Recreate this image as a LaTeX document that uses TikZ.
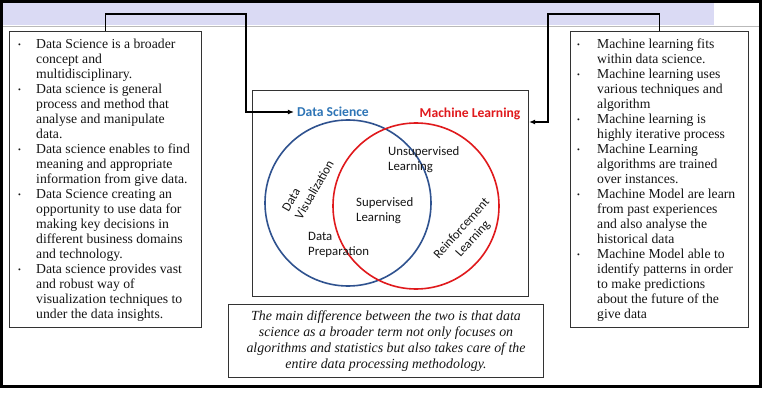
\documentclass[tikz,border=0pt]{standalone}
\usepackage{fontspec}
\setmainfont{Liberation Serif}
\newfontfamily\calfont{Carlito}
\usetikzlibrary{arrows.meta,calc}
\definecolor{band}{HTML}{DADAF4}
\definecolor{dsblue}{HTML}{2E75B6}
\definecolor{dsring}{HTML}{2F528F}
\definecolor{mlred}{HTML}{E0191C}
\definecolor{txt}{HTML}{151515}
\definecolor{boxline}{HTML}{333333}
\newcommand{\bul}[1]{\makebox[#1][l]{\raisebox{0.1ex}{\fontsize{8}{8}\selectfont •}}}
\begin{document}
\begin{tikzpicture}[x=1pt,y=-1pt,
  textbox/.style={draw=boxline,line width=1.1pt,fill=white,inner sep=0pt},
  listtext/.style={inner sep=0pt,align=left,text=txt,font=\fontsize{13.7}{15}\selectfont},
  conn/.style={line width=1.6pt,black},
  tip/.style={-{Latex[length=6pt,width=5pt]}},
  ring/.style={circle,line width=1.6pt,minimum size=166pt,inner sep=0pt},
  venn/.style={inner sep=0pt,text=txt,font=\calfont\fontsize{12.8}{15}\selectfont},
  title/.style={inner sep=0pt,font=\calfont\bfseries\fontsize{13.6}{15}\selectfont}]
\useasboundingbox (0,0) rectangle (763,401);
\fill[white] (0,0) rectangle (763,401);
\fill[band] (2,2) rectangle (714,25);
\draw[gray!55,line width=0.6pt] (2,26) -- (760,26);
\draw[black,line width=3pt] (1.5,1.5) rectangle (760,386);

% left box
\node[textbox,anchor=north west,minimum width=192pt,minimum height=296pt] (lbox) at (9,31) {};
\node[listtext,anchor=base west] (ltext) at (18,318) {%
\bul{18pt}Data Science is a broader\\
\hspace*{18pt}concept and\\
\hspace*{18pt}multidisciplinary.\\
\bul{18pt}Data science is general\\
\hspace*{18pt}process and method that\\
\hspace*{18pt}analyse and manipulate\\
\hspace*{18pt}data.\\
\bul{18pt}Data science enables to find\\
\hspace*{18pt}meaning and appropriate\\
\hspace*{18pt}information from give data.\\
\bul{18pt}Data Science creating an\\
\hspace*{18pt}opportunity to use data for\\
\hspace*{18pt}making key decisions in\\
\hspace*{18pt}different business domains\\
\hspace*{18pt}and technology.\\
\bul{18pt}Data science provides vast\\
\hspace*{18pt}and robust way of\\
\hspace*{18pt}visualization techniques to\\
\hspace*{18pt}under the data insights.};

% right box
\node[textbox,anchor=north west,minimum width=178pt,minimum height=296pt] (rbox) at (570,31) {};
\node[listtext,anchor=base west] (rtext) at (577,318) {%
\bul{20pt}Machine learning fits\\
\hspace*{20pt}within data science.\\
\bul{20pt}Machine learning uses\\
\hspace*{20pt}various techniques and\\
\hspace*{20pt}algorithm\\
\bul{20pt}Machine learning is\\
\hspace*{20pt}highly iterative process\\
\bul{20pt}Machine Learning\\
\hspace*{20pt}algorithms are trained\\
\hspace*{20pt}over instances.\\
\bul{20pt}Machine Model are learn\\
\hspace*{20pt}from past experiences\\
\hspace*{20pt}and also analyse the\\
\hspace*{20pt}historical data\\
\bul{20pt}Machine Model able to\\
\hspace*{20pt}identify patterns in order\\
\hspace*{20pt}to make predictions\\
\hspace*{20pt}about the future of the\\
\hspace*{20pt}give data};

% middle box
\node[textbox,anchor=north west,minimum width=276pt,minimum height=206pt] (mbox) at (252,90) {};

% bottom box
\node[textbox,anchor=north west,minimum width=315pt,minimum height=73pt,align=center,text=txt,
  font=\itshape\fontsize{13.9}{16}\selectfont] (bbox) at (228,304)
  {The main difference between the two is that data\\
   science as a broader term not only focuses on\\
   algorithms and statistics but also takes care of the\\
   entire data processing methodology.};

% venn
\node[ring,draw=dsring] (dsc) at (348,203) {};
\node[ring,draw=mlred] (mlc) at (416,206) {};
\node[title,text=dsblue,inner xsep=3pt] (ds) at (333,112) {Data Science};
\node[title,text=mlred] (ml) at (470,114) {Machine Learning};
\node[venn,align=left,anchor=base west] (unsup) at (388,171) {Unsupervised\\Learning};
\node[venn,align=left,anchor=base west] (sup) at (356,221) {Supervised\\Learning};
\node[venn,align=left,anchor=base west] (prep) at (308,255) {Data\\Preparation};
\node[venn,align=left,rotate=60] (vis) at (308,186) {Data\\Visualization};
\node[venn,align=center,rotate=48] (reinf) at (467.5,234) {Reinforcement\\Learning};

% connectors
\coordinate (lturn) at (246,14);
\coordinate (rturn) at (548,14);
\coordinate (mlin) at ($(mbox.north east)+(0,32)$);
\draw[conn,tip] (lbox.north) |- (lturn) |- (ds.west);
\draw[conn,tip] (rbox.north) |- (rturn) |- (mlin);
\end{tikzpicture}
\end{document}
